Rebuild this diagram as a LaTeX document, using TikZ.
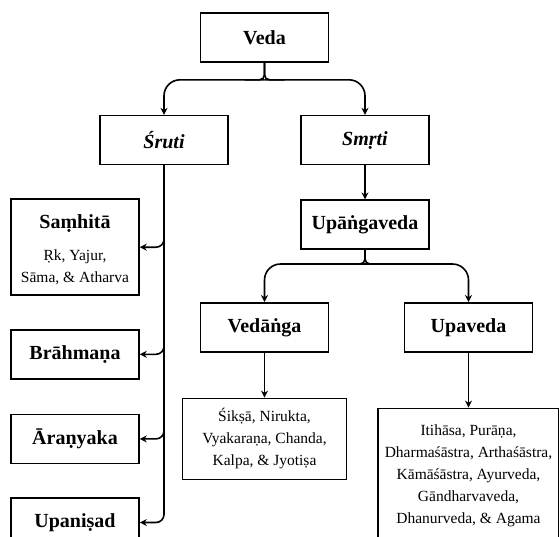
\documentclass[tikz,border=0pt]{standalone}
\usepackage{fontspec}
\setmainfont{Liberation Serif}
\usetikzlibrary{arrows.meta,positioning}
\newcommand{\headfont}{\fontsize{20}{24}\selectfont\bfseries}
\newcommand{\listfont}{\fontsize{15.5}{22}\selectfont}

\begin{document}
\begin{tikzpicture}[x=1pt, y=-1pt,
  box/.style={draw,line width=1.6pt,align=center,minimum width=128pt,minimum height=49pt,font=\headfont,inner sep=0pt},
  listbox/.style={draw,line width=1.6pt,align=center,font=\listfont,inner sep=0pt},
  link/.style={line width=1.6pt},
  arrow/.style={-{Stealth[length=7pt,width=7pt]},line width=1.6pt}]
\useasboundingbox (0,0) rectangle (559,536);
% top level
\node[box] (veda) at (264.5,37.5) {Veda};
\node[box,below=52pt of veda,xshift=-100.5pt] (sruti) {\itshape Śruti};
\node[box,below=52pt of veda,xshift=100.5pt] (smrti) {\itshape Smṛti};
\node[box,below=34pt of smrti] (upanga) {Upāṅgaveda};
\node[box,below=52pt of upanga,xshift=-100.5pt] (vedanga) {Vedāṅga};
\node[box,below=52pt of upanga,xshift=103.5pt] (upaveda) {Upaveda};
\node[listbox,below=45pt of vedanga,minimum width=164pt,minimum height=81pt] (vlist) {Śikṣā, Nirukta,\\Vyakaraṇa, Chanda,\\Kalpa, \& Jyotiṣa};
\node[listbox,below=55pt of upaveda,minimum width=181pt,minimum height=134pt] (ulist) {Itihāsa, Purāṇa,\\Dharmaśāstra, Arthaśāstra,\\Kāmāśāstra, Ayurveda,\\Gāndharvaveda,\\Dhanurveda, \& Agama};
% sruti column
\node[box,below=33pt of sruti,xshift=-89pt,text height=83pt,text depth=13pt] (samhita) {Saṃhitā\\[8pt]\listfont\mdseries Ṛk, Yajur,\\[-2pt]\listfont\mdseries Sāma, \& Atharva};
\node[box,below=33pt of samhita] (brahmana) {Brāhmaṇa};
\node[box,below=34pt of brahmana] (aranyaka) {Āraṇyaka};
\node[box,below=33pt of aranyaka] (upanisad) {Upaniṣad};
% forks
\coordinate[below=17pt of veda.south] (vfork);
\coordinate[below=14pt of upanga.south] (ufork);
\draw[link,rounded corners=5pt] (veda.south) |- ([xshift=-20pt]vfork);
\draw[link,rounded corners=5pt] (veda.south) |- ([xshift=20pt]vfork);
\draw[arrow,rounded corners=16pt] (vfork) -| (sruti.north);
\draw[arrow,rounded corners=16pt] (vfork) -| (smrti.north);
\draw[link,rounded corners=5pt] (upanga.south) |- ([xshift=-20pt]ufork);
\draw[link,rounded corners=5pt] (upanga.south) |- ([xshift=20pt]ufork);
\draw[arrow,rounded corners=16pt] (ufork) -| (vedanga.north);
\draw[arrow,rounded corners=16pt] (ufork) -| (upaveda.north);
% straight links
\draw[arrow] (smrti) -- (upanga);
\draw[arrow] (vedanga) -- (vlist);
\draw[arrow] (upaveda) -- (ulist);
% trunk
\draw[arrow,rounded corners=8pt] (sruti.south) |- (samhita.east);
\draw[arrow,rounded corners=8pt] (sruti.south) |- (brahmana.east);
\draw[arrow,rounded corners=8pt] (sruti.south) |- (aranyaka.east);
\draw[arrow,rounded corners=8pt] (sruti.south) |- (upanisad.east);
\end{tikzpicture}
\end{document}
